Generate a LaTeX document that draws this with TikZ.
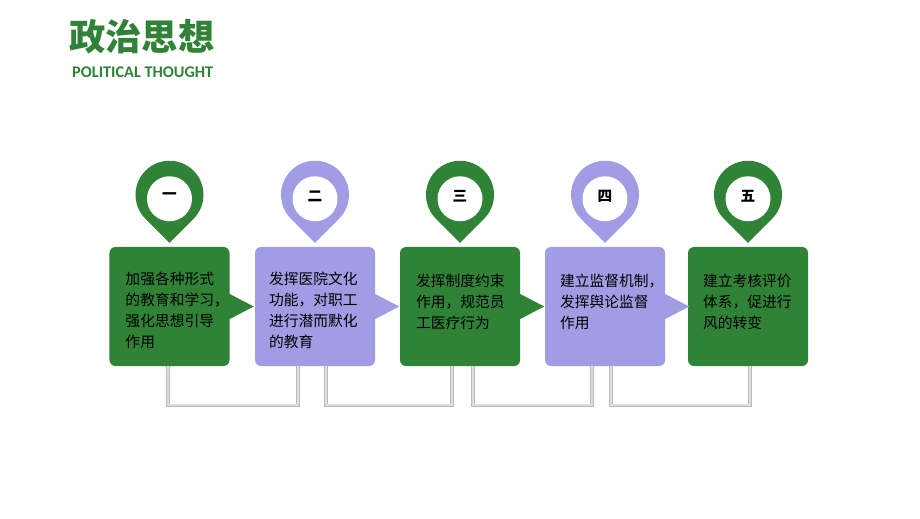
\documentclass[tikz,border=0pt]{standalone}
\usepackage{fontspec}
\usepackage{tikz}
\usetikzlibrary{calc}
\newfontfamily\cjk{Noto Sans CJK SC}
\newfontfamily\carlito{Carlito}
\definecolor{leafgreen}{HTML}{2F8236}
\definecolor{lavender}{HTML}{A09DE4}

\begin{document}
\begin{tikzpicture}[x=0.03cm, y=0.03cm,
		card/.style = {rectangle, rounded corners=0.18cm, minimum width=3.6cm, minimum height=3.57cm, inner sep=0pt},
		cardtext/.style = {anchor=north west, inner sep=0pt, align=left, font=\cjk\fontsize{12.6}{18}\selectfont},
		pinnum/.style = {inner sep=0pt, font=\cjk\bfseries\fontsize{12.5}{14}\selectfont},
		link/.style = {draw=black!27, double=black!13, line width=0.7pt, double distance=1.4pt}]
				\def\yCARD{211.5};
				\def\rPIN{34};
		
				\useasboundingbox (0,0) rectangle (920,518);
				\fill[white] (0,0) rectangle (920,518);
		
				\node [anchor=west, inner sep=0pt, text=leafgreen, font=\cjk\bfseries\fontsize{31}{36}\selectfont] (title) at (69,481) {政治思想};
				\node [anchor=west, inner sep=0pt, text=leafgreen, font=\carlito\bfseries\fontsize{13.9}{16}\selectfont] (subtitle) at (72,445.5) {POLITICAL THOUGHT};
		
				\begin{scope}
					\node [card, fill=leafgreen] (c1) at (169.5,\yCARD) {};
					\node [card, fill=lavender] (c2) at (315,\yCARD) {};
					\node [card, fill=leafgreen] (c3) at (460,\yCARD) {};
					\node [card, fill=lavender] (c4) at (605,\yCARD) {};
					\node [card, fill=leafgreen] (c5) at (748,\yCARD) {};
				\end{scope}
		
				\foreach \c/\col in {c1/leafgreen, c2/lavender, c3/leafgreen, c4/lavender}
					\fill [\col] ($(\c.east)+(-1,13)$) -- ($(\c.east)+(24,0)$) -- ($(\c.east)+(-1,-13)$) -- cycle;
		
				\foreach \c/\col/\num in {c1/leafgreen/一, c2/lavender/二, c3/leafgreen/三, c4/lavender/四, c5/leafgreen/五} {
					\fill [\col] ($(\c.north)+(0,4)$) -- ($(\c.north)+(0,52)+(-45.1:\rPIN)$) arc [start angle=-45.1, end angle=225.1, radius=\rPIN] -- cycle;
					\fill [white] ($(\c.north)+(0,48)$) circle [radius=22.5];
					\node [pinnum] (n\c) at ($(\c.north)+(0,50.5)$) {\num};
				}
		
				\node [cardtext] (t1) at ($(c1.north west)+(16,-25)$) {加强各种形式\\的教育和学习，\\强化思想引导\\作用};
				\node [cardtext] (t2) at ($(c2.north west)+(14,-25)$) {发挥医院文化\\功能，对职工\\进行潜而默化\\的教育};
				\node [cardtext] (t3) at ($(c3.north west)+(16,-27)$) {发挥制度约束\\作用，规范员\\工医疗行为};
				\node [cardtext] (t4) at ($(c4.north west)+(15,-27)$) {建立监督机制，\\发挥舆论监督\\作用};
				\node [cardtext] (t5) at ($(c5.north west)+(15,-27)$) {建立考核评价\\体系，促进行\\风的转变};
		
				\draw [link] ($(c1.south)+(-1.5,0)$) -- ++(0,-39) -| ($(c2.south)+(-17,0)$);
				\draw [link] ($(c2.south)+(11,0)$) -- ++(0,-39) -| ($(c3.south)+(-8,0)$);
				\draw [link] ($(c3.south)+(13,0)$) -- ++(0,-39) -| ($(c4.south)+(-13,0)$);
				\draw [link] ($(c4.south)+(6,0)$) -- ++(0,-39) -| ($(c5.south)+(2,0)$);
			\end{tikzpicture}
\end{document}
